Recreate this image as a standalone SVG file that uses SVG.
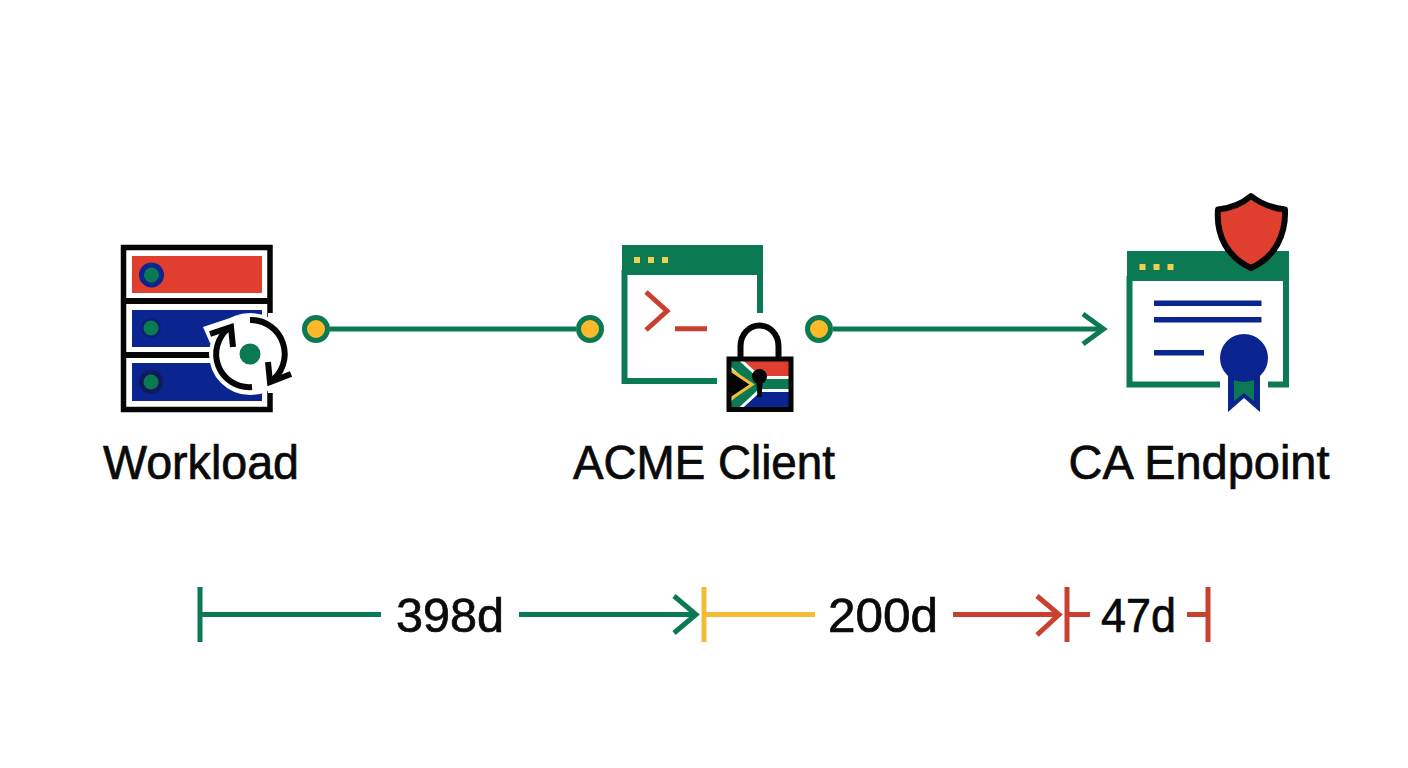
<svg xmlns="http://www.w3.org/2000/svg" width="1408" height="768" viewBox="0 0 1408 768">
<style>
.lbl{font-family:"Liberation Sans",Arial,sans-serif;font-size:48px;fill:#0a0a0a;stroke:#0a0a0a;stroke-width:0.7}
.g{stroke:#0b7a53}.r{stroke:#c9402f}.y{stroke:#f4bc35}.k{stroke:#050505}.n{stroke:#0a2590}
.gf{fill:#0b7a53}.yf{fill:#f2d04e}.nf{fill:#0a2590}.rf{fill:#e03f30}
.w5{stroke-width:5;fill:none}.w6{stroke-width:6;fill:none}
.port{fill:#fdb92a;stroke:#0b7a53;stroke-width:5}
</style>
<defs><clipPath id="flagclip"><rect x="731" y="361" width="58" height="46"/></clipPath></defs>
<rect width="1408" height="768" fill="#ffffff"/>
<g id="workload">
<rect class="k" x="123.500" y="247.500" width="146.500" height="162" stroke-width="5.500" fill="none"/>
<path class="k" d="M123 301H270M123 355H270" stroke-width="6" fill="none"/>
<rect class="rf" x="132" y="256" width="130" height="37"/>
<rect class="nf" x="132" y="310" width="130" height="37"/>
<rect class="nf" x="132" y="363" width="130" height="38"/>
<circle class="nf" cx="151.500" cy="275" r="12.500"/><circle class="gf" cx="151.500" cy="275" r="7.500"/>
<circle cx="151" cy="328" r="10" fill="#0a1f78"/><circle class="gf" cx="151" cy="328" r="7.500"/>
<circle cx="151" cy="382" r="12" fill="#101a5c"/><circle class="gf" cx="151" cy="382" r="7.500"/>
<circle cx="250" cy="354" r="41" fill="#ffffff"/>
<path d="M203 327L233 317L230 350L210 343Z" fill="#ffffff"/>
<rect x="268" y="313" width="8" height="80" fill="#ffffff"/>
<path class="k w6" d="M250 320A34 34 0 0 1 270 382"/>
<path class="k w6" d="M252 387A33 33 0 0 1 229 328"/>
<path class="k w6" d="M268 362L270 382L291 374"/>
<path class="k w6" d="M210 334L231 327L233 347"/>
<circle class="gf" cx="250" cy="354" r="10.500"/>
<text class="lbl" x="201" y="479" text-anchor="middle" textLength="196" lengthAdjust="spacingAndGlyphs">Workload</text>
</g>
<g id="acme-client">
<rect class="gf" x="622" y="245" width="141" height="30"/>
<path class="g w6" d="M760 275V313M624.500 270V381H717"/>
<rect class="yf" x="634" y="257" width="6" height="6"/><rect class="yf" x="648" y="257" width="6" height="6"/><rect class="yf" x="662" y="257" width="6" height="6"/>
<path class="r w5" d="M646 292L667 311L646 330M675 328.700H707"/>
<path class="k" d="M740.500 359V346A19 20.500 0 0 1 778.500 346V359" stroke-width="6" fill="none"/>
<g clip-path="url(#flagclip)">
<rect x="731" y="361" width="58" height="23" fill="#e03f30"/>
<rect x="731" y="384" width="58" height="23" fill="#0a2590"/>
<path d="M731 360L757 384H789M731 408L757 384" fill="none" stroke="#ffffff" stroke-width="16"/>
<path d="M731 360L757 384H789M731 408L757 384" fill="none" stroke="#0b7a53" stroke-width="10"/>
<path d="M729 369L752 384.500L729 400Z" fill="#050505" stroke="#f4bc35" stroke-width="3"/>
</g>
<rect class="k" x="729" y="359" width="62" height="50.500" stroke-width="5" fill="none"/>
<circle cx="759.500" cy="376.500" r="7.500" fill="#050505"/>
<path d="M756 378H763L761.500 397H757.500Z" fill="#050505"/>
<text class="lbl" x="704" y="479" text-anchor="middle" textLength="262" lengthAdjust="spacingAndGlyphs">ACME Client</text>
</g>
<g id="ca-endpoint">
<rect class="gf" x="1127" y="251" width="162" height="30"/>
<path class="g w6" d="M1129.500 276V384.500H1220M1268 384.500H1286V276"/>
<rect class="yf" x="1139.500" y="264" width="6" height="6"/><rect class="yf" x="1153.500" y="264" width="6" height="6"/><rect class="yf" x="1167.500" y="264" width="6" height="6"/>
<path class="n" d="M1154 303.300H1261.500M1154 319.700H1261.500M1154 352.700H1204" stroke-width="5.500" fill="none"/>
<path class="nf" d="M1228 370H1260V412L1244 398L1228 412Z"/>
<path class="gf" d="M1234 378H1254V401L1244 393L1234 401Z"/>
<circle class="nf" cx="1244" cy="358" r="24"/>
<path class="rf k" d="M1251 196C1243 203 1232 208 1218 209.500C1216 235 1227 257 1251 268C1275 257 1286 235 1285 209.500C1271 208 1260 203 1251 196Z" stroke-width="6" stroke-linejoin="round"/>
<text class="lbl" x="1199" y="479" text-anchor="middle" textLength="261" lengthAdjust="spacingAndGlyphs">CA Endpoint</text>
</g>
<g id="connectors">
<circle class="port" cx="316" cy="329" r="11.500"/>
<circle class="port" cx="590" cy="329" r="11.500"/>
<circle class="port" cx="819" cy="329" r="11.500"/>
<path class="g w5" d="M330 329H576M833 329H1102"/>
<path class="g w5" d="M1083 314L1103.500 329L1083 344"/>
</g>
<g id="timeline">
<path class="g w5" d="M200 587V642M200 614.500H381M519 614.500H694M674 596L696 614.500L674 633"/>
<path class="y w5" d="M704 587V642M704 614.500H815"/>
<path class="r w5" d="M953 614.500H1057M1037 596L1059 614.500L1037 635"/>
<path class="r w5" d="M1067 587V642M1067 614.500H1090M1187 614.500H1208M1208 587V642"/>
<text class="lbl" x="450" y="631.500" text-anchor="middle" textLength="108" lengthAdjust="spacingAndGlyphs">398d</text>
<text class="lbl" x="883" y="631.500" text-anchor="middle" textLength="110" lengthAdjust="spacingAndGlyphs">200d</text>
<text class="lbl" x="1138.500" y="631.500" text-anchor="middle" textLength="75" lengthAdjust="spacingAndGlyphs">47d</text>
</g>
</svg>
